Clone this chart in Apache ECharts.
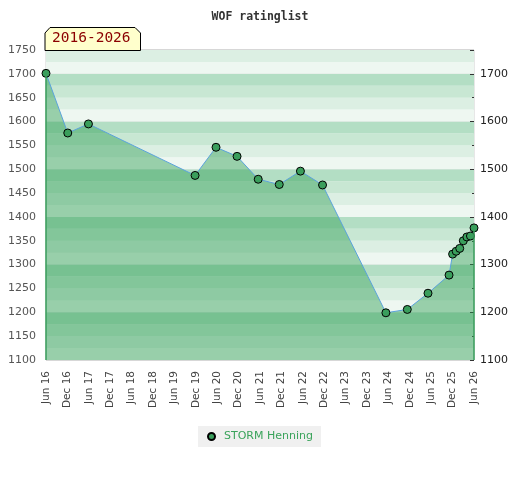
<!DOCTYPE html>
<html>
<head>
<meta charset="utf-8">
<script src="https://cdn.jsdelivr.net/npm/echarts@6/dist/echarts.min.js"></script>
<style>
  html, body { margin: 0; padding: 0; background: #fff; }
  #main { width: 520px; height: 480px; }
</style>
</head>
<body>
<div id="main"></div>
<script>
// 数据: 日期 (年-月-日) 和 积分
var dates = ['2016-06-01', '2016-12-04', '2017-05-28', '2019-11-25', '2020-05-21', '2020-11-18',
    '2021-05-16', '2021-11-13', '2022-05-11', '2022-11-17', '2024-05-10', '2024-11-10',
    '2025-05-04', '2025-11-01', '2025-12-01', '2026-01-01', '2026-02-01', '2026-03-01',
    '2026-04-01', '2026-05-01', '2026-06-01'];
var ratings = [1701, 1576, 1595, 1487, 1546, 1527, 1479, 1468, 1496, 1467, 1199, 1206,
    1240, 1278, 1322, 1328, 1334, 1350, 1358, 1360, 1377];
// x轴刻度标签 (每6个月)
var xTickLabels = ['Jun 16', 'Dec 16', 'Jun 17', 'Dec 17', 'Jun 18', 'Dec 18', 'Jun 19',
    'Dec 19', 'Jun 20', 'Dec 20', 'Jun 21', 'Dec 21', 'Jun 22', 'Dec 22', 'Jun 23',
    'Dec 23', 'Jun 24', 'Dec 24', 'Jun 25', 'Dec 25', 'Jun 26'];
var seriesName = 'STORM Henning';
var periodLabel = '2016-2026';

// 把日期换成从 2016年6月 起的月数
function monthIndex(d) {
    var p = d.split('-');
    return (parseInt(p[0], 10) - 2016) * 12 + parseInt(p[1], 10) - 6 + (parseInt(p[2], 10) - 1) / 30;
}
var points = dates.map(function (d, i) { return [monthIndex(d), ratings[i]]; });
var first = points[0], last = points[points.length - 1];

var myChart = echarts.init(document.getElementById('main'));
var option = {
    animation: false,
    title: {
        text: 'WOF ratinglist',
        left: 'center',
        top: 6,
        textStyle: { fontFamily: 'DejaVu Sans Mono', fontSize: 11.5, fontWeight: 'bold', color: '#333' }
    },
    grid: {
        left: 46, right: 46, top: 50, bottom: 120,
        show: true, borderColor: '#d0d0d0', borderWidth: 1
    },
    legend: {
        bottom: 33,
        left: 'center',
        backgroundColor: '#f0f0f0',
        padding: [5, 8, 5, 9],
        itemWidth: 7, itemHeight: 7, itemGap: 8,
        textStyle: { color: '#3aa35b', fontFamily: 'DejaVu Sans', fontSize: 11, padding: [0, 0, 0, 4] },
        data: [{ name: seriesName, icon: 'circle' }]
    },
    xAxis: {
        type: 'value',
        min: 0, max: 120, interval: 6,
        axisLine: { show: false },
        axisTick: { show: false },
        splitLine: { show: false },
        axisLabel: {
            rotate: 90, margin: 11,
            fontFamily: 'DejaVu Sans', fontSize: 10.5, color: '#444',
            formatter: function (v) { return xTickLabels[v / 6]; }
        }
    },
    yAxis: [
        {
            type: 'value', position: 'left',
            min: 1100, max: 1750, interval: 50,
            axisLine: { show: false }, axisTick: { show: false },
            splitLine: { show: false },
            axisLabel: {
                margin: 10, fontFamily: 'DejaVu Sans', fontSize: 11, color: '#555',
                formatter: function (v) { return String(v); }
            }
        },
        {
            type: 'value', position: 'right',
            min: 1100, max: 1750, interval: 100,
            axisLine: { show: false },
            axisTick: { show: true, inside: true, length: 4, lineStyle: { color: '#333' } },
            minorTick: { show: true, splitNumber: 2, length: 2, lineStyle: { color: '#333' } },
            splitLine: { show: true, lineStyle: { color: '#d2d2d2', width: 1.5 } },
            axisLabel: {
                margin: 6, fontFamily: 'DejaVu Sans', fontSize: 11, color: '#222',
                formatter: function (v) { return v % 100 === 0 ? String(v) : ''; }
            }
        },
        {
            // 背景条纹
            type: 'value', position: 'left',
            min: 1100, max: 1750, interval: 25,
            axisLine: { show: false }, axisTick: { show: false },
            axisLabel: { show: false }, splitLine: { show: false },
            splitArea: { show: true, areaStyle: { color: ['#eef7f1', '#dcefe3', '#c8e7d3', '#b3dec4'] } }
        }
    ],
    graphic: [
        {
            type: 'polygon',
            shape: { points: [[45, 33], [50, 27.5], [135, 27.5], [140.5, 33], [140.5, 50.5], [45, 50.5]] },
            style: { fill: '#ffffcc', stroke: '#000', lineWidth: 1 },
            z: 100
        },
        {
            type: 'text',
            left: 52, top: 31,
            style: { text: periodLabel, fill: '#8b0000', font: '14.5px "DejaVu Sans Mono"' },
            z: 101
        }
    ],
    series: [
        {
            name: seriesName,
            type: 'line',
            data: points,
            symbol: 'circle',
            symbolSize: 8,
            itemStyle: { color: '#3a9e5c', borderColor: '#000', borderWidth: 1 },
            lineStyle: { color: '#5ba3dc', width: 1 },
            areaStyle: { color: '#2e9e55', opacity: 0.45 },
            markLine: {
                silent: true,
                symbol: 'none',
                label: { show: false },
                lineStyle: { color: '#3a9e5c', width: 1.5, type: 'solid' },
                data: [
                    [{ coord: [first[0], first[1]] }, { coord: [first[0], 1100] }],
                    [{ coord: [last[0], last[1]] }, { coord: [last[0], 1100] }]
                ]
            }
        }
    ]
};
myChart.setOption(option);
</script>
</body>
</html>
